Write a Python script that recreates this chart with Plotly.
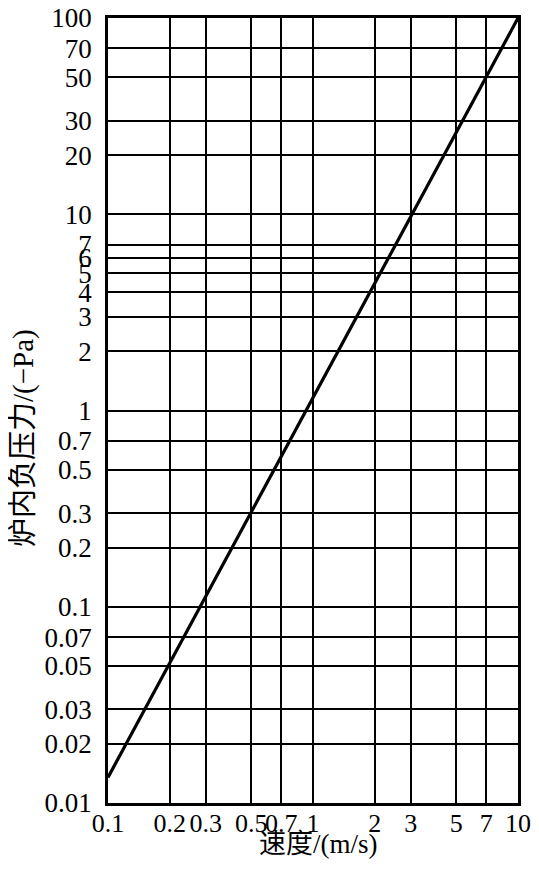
import plotly.graph_objects as go

# 速度 (m/s) vs 炉内负压力 (-Pa)
speed = [0.1, 10]
pressure = [0.0135, 100]

x_ticks = [0.1, 0.2, 0.3, 0.5, 0.7, 1, 2, 3, 5, 7, 10]
x_labels = ["0.1", "0.2", "0.3", "0.5", "0.7", "1", "2", "3", "5", "7", "10"]
y_ticks = [0.01, 0.02, 0.03, 0.05, 0.07, 0.1, 0.2, 0.3, 0.5, 0.7,
           1, 2, 3, 4, 5, 6, 7, 10, 20, 30, 50, 70, 100]
y_labels = ["0.01", "0.02", "0.03", "0.05", "0.07", "0.1", "0.2", "0.3", "0.5", "0.7",
            "1", "2", "3", "4", "5", "6", "7", "10", "20", "30", "50", "70", "100"]

font_family = "Liberation Serif, Noto Sans CJK SC, serif"

# page body has an 8px margin; keep the figure inside the window
W, H = 523, 853
ml, mr, mt, mb = 100, 13, 10, 58
plot_w = W - ml - mr
plot_h = H - mt - mb

fig = go.Figure()
fig.add_trace(go.Scatter(x=speed, y=pressure, mode='lines',
                         line=dict(color='black', width=3.2),
                         showlegend=False, hoverinfo='skip'))

fig.update_layout(
    width=W, height=H,
    margin=dict(l=ml, r=mr, t=mt, b=mb),
    paper_bgcolor='white', plot_bgcolor='white',
    font=dict(family=font_family, size=27, color='black'),
)
fig.update_xaxes(
    type='log', range=[-1, 1],
    tickvals=x_ticks, ticktext=x_labels, tickangle=0,
    tickfont=dict(size=26),
    showgrid=True, gridcolor='black', gridwidth=2,
    showline=True, linecolor='black', linewidth=2.5, mirror=True,
    ticks='', ticklabelstandoff=-5, zeroline=False, ticklabeloverflow='allow',
    automargin=False,
)
fig.update_yaxes(
    type='log', range=[-2, 2],
    tickvals=y_ticks, ticktext=y_labels,
    showgrid=True, gridcolor='black', gridwidth=2,
    showline=True, linecolor='black', linewidth=2.5, mirror=True,
    ticks='', ticklabelstandoff=8, zeroline=False, ticklabeloverflow='allow',
    automargin=False,
)

# axis titles placed as in the original (y title sits below the axis middle)
fig.add_annotation(text='炉内负压力/(−Pa)', textangle=-90,
                   xref='paper', yref='paper',
                   x=(15 - ml) / plot_w, y=(mt + plot_h - 430) / plot_h,
                   xanchor='center', yanchor='middle', showarrow=False,
                   font=dict(size=29))
fig.add_annotation(text='速度/(m/s)',
                   xref='paper', yref='paper',
                   x=(310 - ml) / plot_w, y=-mb / plot_h,
                   xanchor='center', yanchor='bottom', showarrow=False,
                   font=dict(size=27))

fig.write_html("out.html")
